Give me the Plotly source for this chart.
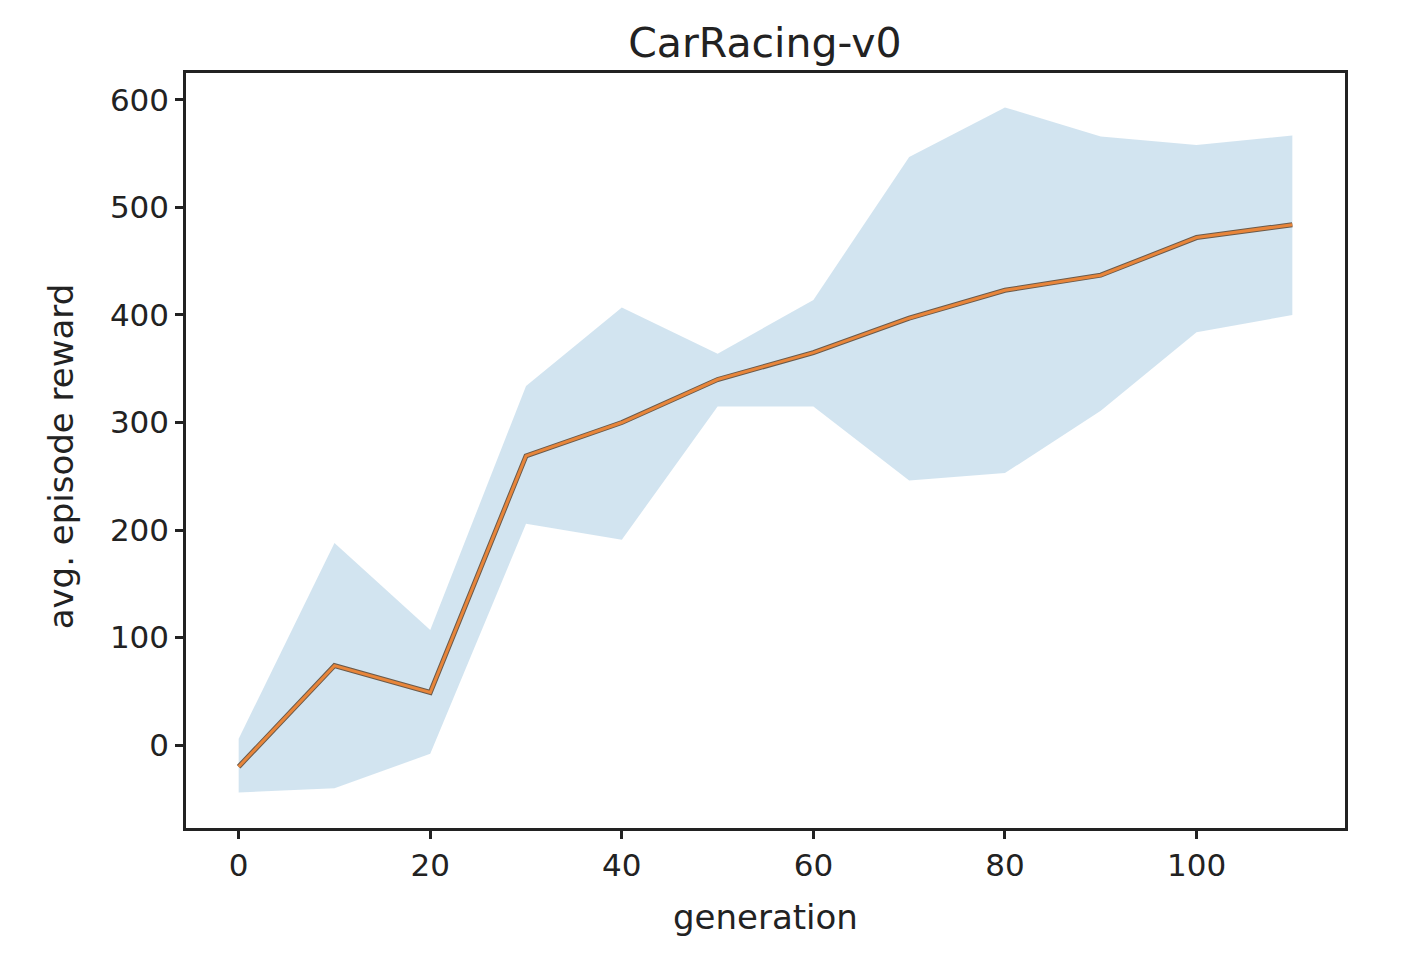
import plotly.graph_objects as go

generation = [0, 10, 20, 30, 40, 50, 60, 70, 80, 90, 100, 110]
mean_reward = [-20, 74, 49, 269, 300, 340, 365, 397, 423, 437, 472, 484]
upper_reward = [6, 188, 107, 334, 407, 364, 414, 547, 593, 566, 558, 567]
lower_reward = [-44, -40, -8, 206, 191, 315, 315, 246, 253, 311, 384, 400]

x_ticks = [0, 20, 40, 60, 80, 100]
y_ticks = [0, 100, 200, 300, 400, 500, 600]

FONT = "DejaVu Sans"

fig = go.Figure()
fig.add_trace(go.Scatter(x=generation, y=lower_reward, mode="lines",
                         line=dict(width=0), showlegend=False, hoverinfo="skip"))
fig.add_trace(go.Scatter(x=generation, y=upper_reward, mode="lines",
                         line=dict(width=0), fill="tonexty",
                         fillcolor="rgba(31,119,180,0.2)", showlegend=False))
fig.add_trace(go.Scatter(x=generation, y=mean_reward, mode="lines",
                         line=dict(color="#6b5a4a", width=5), showlegend=False))
fig.add_trace(go.Scatter(x=generation, y=mean_reward, mode="lines",
                         line=dict(color="#e8853a", width=3), showlegend=False))

axis_common = dict(showgrid=False, zeroline=False, showline=True, linecolor="#222222",
                   linewidth=2.5, mirror=True, ticks="outside", ticklen=8, tickwidth=2.5,
                   tickcolor="#222222", tickfont=dict(family=FONT, size=31, color="#222222"))

fig.update_layout(
    width=1420, height=978,
    margin=dict(l=178, r=83, t=65, b=158),
    paper_bgcolor="white", plot_bgcolor="white",
    title=dict(text="CarRacing-v0", x=0.533, xanchor="center", y=0.965, yanchor="middle",
               font=dict(family=FONT, size=41, color="#222222")),
    xaxis=dict(range=[-5.5, 115.5], tickvals=x_ticks, **axis_common),
    yaxis=dict(range=[-77, 625], tickvals=y_ticks, **axis_common),
    annotations=[
        dict(text="generation", xref="paper", yref="paper", x=0.5, y=-0.118,
             xanchor="center", yanchor="middle", showarrow=False,
             font=dict(family=FONT, size=34, color="#222222")),
        dict(text="avg. episode reward", xref="paper", yref="paper", x=-0.108, y=0.492,
             xanchor="center", yanchor="middle", showarrow=False, textangle=-90,
             font=dict(family=FONT, size=34, color="#222222")),
    ],
)

fig.write_html("out.html")
